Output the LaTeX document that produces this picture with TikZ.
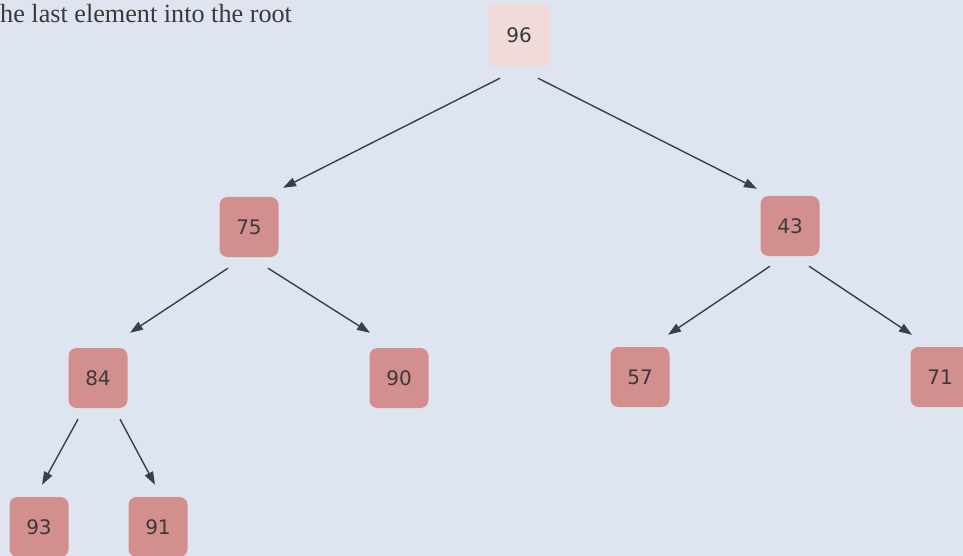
\documentclass[tikz,border=0pt]{standalone}
\usepackage{fontspec}
\setmainfont{Liberation Serif}
\newfontfamily\numfont{DejaVu Sans}
\usetikzlibrary{arrows.meta}
\definecolor{bgc}{HTML}{DEE4F0}
\definecolor{boxc}{HTML}{D38F8E}
\definecolor{rootc}{HTML}{F1DADA}
\definecolor{linec}{HTML}{3A3F4A}
\definecolor{txtc}{HTML}{3A3A3A}
\begin{document}
\begin{tikzpicture}[x=1pt,y=-1pt,
  keybox/.style={draw=none,fill=boxc,rounded corners=8pt,minimum width=59pt,minimum height=60pt,inner sep=0pt,font=\numfont\fontsize{20}{20}\selectfont,text=txtc},
  rootbox/.style={keybox,fill=rootc,rounded corners=3pt,minimum width=62pt,minimum height=62pt},
  edge/.style={draw=linec,line width=1.4pt,-{Triangle[length=13pt,width=9pt]}}]
\fill[bgc] (0,0) rectangle (963,556);
\useasboundingbox (0,0) rectangle (963,556);
\node[anchor=base west,font=\fontsize{26.2}{27}\selectfont,text=txtc,inner sep=0pt] (cap) at (0,23) {he last element into the root};
\node[rootbox] (n96) at (519,35) {96};
\node[keybox] (n75) at (249,227) {75};
\node[keybox] (n43) at (790,226) {43};
\node[keybox] (n84) at (98,378) {84};
\node[keybox] (n90) at (399,378) {90};
\node[keybox] (n57) at (640,377) {57};
\node[keybox] (n71) at (940,377) {71};
\node[keybox] (n93) at (39,527) {93};
\node[keybox] (n91) at (158,527) {91};
\draw[edge] ([xshift=-19pt,yshift=-12pt]n96.south) -- ([xshift=34pt,yshift=9pt]n75.north);
\draw[edge] ([xshift=19pt,yshift=-12pt]n96.south) -- ([xshift=-33pt,yshift=7pt]n43.north);
\draw[edge] ([xshift=-21pt,yshift=-11pt]n75.south) -- ([xshift=32pt,yshift=15pt]n84.north);
\draw[edge] ([xshift=19pt,yshift=-11pt]n75.south) -- ([xshift=-29pt,yshift=15pt]n90.north);
\draw[edge] ([xshift=-20pt,yshift=-10pt]n43.south) -- ([xshift=28pt,yshift=12pt]n57.north);
\draw[edge] ([xshift=19pt,yshift=-10pt]n43.south) -- ([xshift=-28pt,yshift=12pt]n71.north);
\draw[edge] ([xshift=-20pt,yshift=-11pt]n84.south) -- ([xshift=3pt,yshift=12pt]n93.north);
\draw[edge] ([xshift=22pt,yshift=-11pt]n84.south) -- ([xshift=-3pt,yshift=12pt]n91.north);
\end{tikzpicture}
\end{document}
